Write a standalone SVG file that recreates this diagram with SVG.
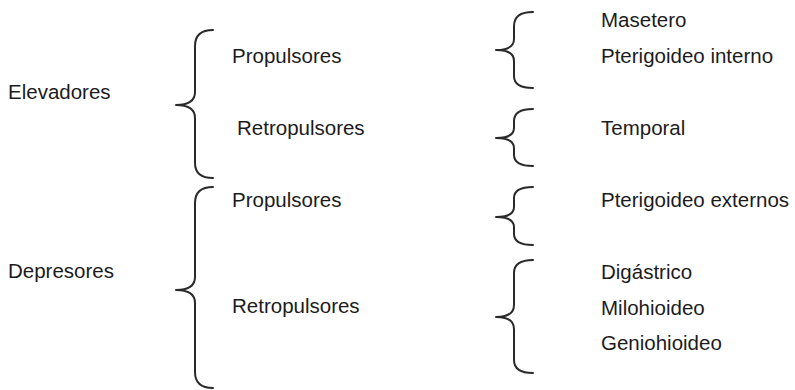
<svg xmlns="http://www.w3.org/2000/svg" width="795" height="390" viewBox="0 0 795 390">
<style>
text{font-family:"Liberation Sans",Arial,sans-serif;font-size:20.5px;fill:#1c1c1c}
.br{fill:none;stroke:#2a2a2a;stroke-width:2;stroke-linecap:round;stroke-linejoin:round}
</style>
<rect width="795" height="390" fill="#ffffff"/>
<g id="connectors">
<path class="br" d="M213,30 Q195,30 195,46 L195,92 Q195,105 176,105 Q195,105 195,118 L195,163 Q195,178 213,178"/>
<path class="br" d="M213,187 Q195,187 195,203 L195,277 Q195,290 176,290 Q195,290 195,303 L195,372 Q195,388 213,388"/>
<path class="br" d="M533,12 Q514,12 514,26 L514,39 Q514,50 496,50 Q514,50 514,61 L514,76 Q514,88 533,88"/>
<path class="br" d="M533,109 Q514,109 514,121 L514,128 Q514,138 496,138 Q514,138 514,148 L514,155 Q514,166 533,166"/>
<path class="br" d="M533,187 Q514,187 514,198 L514,207 Q514,217 496,217 Q514,217 514,227 L514,234 Q514,245 533,245"/>
<path class="br" d="M533,260 Q514,260 514,273 L514,305 Q514,317 496,317 Q514,317 514,329 L514,360 Q514,373 533,373"/>
</g>
<g id="elevadores"><text x="8" y="99">Elevadores</text></g>
<g id="propulsores1"><text x="232" y="63">Propulsores</text></g>
<g id="retropulsores1"><text x="237" y="135">Retropulsores</text></g>
<g id="depresores"><text x="8" y="278">Depresores</text></g>
<g id="propulsores2"><text x="232" y="207">Propulsores</text></g>
<g id="retropulsores2"><text x="232" y="313">Retropulsores</text></g>
<g id="masetero"><text x="601" y="27">Masetero</text></g>
<g id="pterigoideo-interno"><text x="601" y="63">Pterigoideo interno</text></g>
<g id="temporal"><text x="601" y="135">Temporal</text></g>
<g id="pterigoideo-externos"><text x="601" y="207">Pterigoideo externos</text></g>
<g id="digastrico"><text x="601" y="279">Digástrico</text></g>
<g id="milohioideo"><text x="601" y="315">Milohioideo</text></g>
<g id="geniohioideo"><text x="601" y="350">Geniohioideo</text></g>
</svg>
